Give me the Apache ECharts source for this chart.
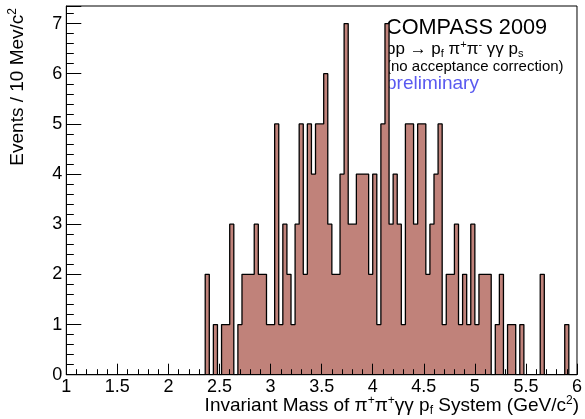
<!DOCTYPE html>
<html>
<head>
<meta charset="utf-8">
<script src="https://cdn.jsdelivr.net/npm/echarts@6/dist/echarts.min.js"></script>
<style>
  html, body { margin: 0; padding: 0; background: #fff; }
  #chart { width: 585px; height: 419px; }
</style>
</head>
<body>
<div id="chart"></div>
<script>
// histogram binning (GeV/c^2)
var binLo = 1;
var binWidth = 0.04;

// counts per bin, 125 bins from 1 to 6
var counts = [
	0, 0, 0, 0, 0, 0, 0, 0, 0, 0,
	0, 0, 0, 0, 0, 0, 0, 0, 0, 0,
	0, 0, 0, 0, 0, 0, 0, 0, 0, 0,
	0, 0, 0, 0, 2, 0, 1, 0, 1, 1,
	3, 0, 1, 2, 2, 2, 3, 2, 2, 1,
	1, 5, 1, 3, 2, 1, 3, 5, 2, 5,
	4, 5, 5, 6, 3, 2, 2, 4, 7, 3,
	3, 4, 4, 4, 2, 4, 1, 5, 7, 3,
	4, 3, 1, 5, 5, 3, 5, 5, 2, 3,
	4, 5, 1, 2, 2, 3, 1, 2, 1, 3,
	1, 2, 2, 2, 0, 1, 2, 0, 1, 1,
	0, 1, 0, 0, 0, 0, 2, 0, 0, 0,
	0, 0, 1, 0, 0
];

var xTicks = { min: 1, max: 6, step: 0.5 };
var yTicks = { min: 0, max: 7.35, step: 1 };

var font = '"Liberation Sans", Arial, Helvetica, sans-serif';

// step data: left edge of every bin, plus the closing right edge
var histData = counts.map(function (c, i) {
	return [binLo + i * binWidth, c];
});
histData.push([binLo + counts.length * binWidth, counts[counts.length - 1]]);

var chart = echarts.init(document.getElementById('chart'), null, { renderer: 'canvas' });

function richSet(size) {
	return {
		m: { fontSize: size, fontFamily: font, color: '#000', lineHeight: size + 3 },
		sup: { fontSize: Math.round(size * 0.65), fontFamily: font, color: '#000', lineHeight: Math.round(size * 0.65), verticalAlign: 'top' },
		sub: { fontSize: Math.round(size * 0.65), fontFamily: font, color: '#000', lineHeight: Math.round(size * 0.65), verticalAlign: 'bottom' }
	};
}

chart.setOption({
	backgroundColor: '#ffffff',
	animation: false,
	grid: {
		left: 66.3,
		right: 4.7,
		top: 6,
		bottom: 44.3,
		show: true,
		borderColor: '#000',
		borderWidth: 1,
		backgroundColor: 'transparent'
	},
	xAxis: {
		type: 'value',
		min: xTicks.min,
		max: xTicks.max,
		interval: xTicks.step,
		z: 10,
		axisLine: { show: true, onZero: false, lineStyle: { color: '#000', width: 1 } },
		axisTick: { show: true, inside: true, length: 11, lineStyle: { color: '#000' } },
		minorTick: { show: true, splitNumber: 5, length: 5.5, lineStyle: { color: '#000' } },
		splitLine: { show: false },
		axisLabel: { color: '#000', fontSize: 18, fontFamily: font, margin: 3 }
	},
	yAxis: {
		type: 'value',
		min: yTicks.min,
		max: yTicks.max,
		interval: yTicks.step,
		z: 10,
		axisLine: { show: true, onZero: false, lineStyle: { color: '#000', width: 1 } },
		axisTick: { show: true, inside: true, length: 15, lineStyle: { color: '#000' } },
		minorTick: { show: true, splitNumber: 5, length: 7.5, lineStyle: { color: '#000' } },
		splitLine: { show: false },
		axisLabel: { color: '#000', fontSize: 18, fontFamily: font, margin: 4, showMaxLabel: false }
	},
	series: [{
		type: 'line',
		step: 'end',
		data: histData,
		symbol: 'none',
		lineStyle: { color: '#000', width: 1.3 },
		areaStyle: { color: 'rgb(192,130,122)', opacity: 1 },
		z: 2
	}],
	graphic: [
		{
			type: 'text',
			x: 18,
			y: 8,
			rotation: Math.PI / 2,
			style: {
				text: '{m|Events / 10 Mev/c}{sup|2}',
				rich: richSet(19),
				align: 'right',
				verticalAlign: 'middle'
			}
		},
		{
			type: 'text',
			x: 579,
			y: 406,
			style: {
				text: '{m|Invariant Mass of π}{sup|+}{m|π}{sup|+}{m|γγ p}{sub|f}{m| System (GeV/c}{sup|2}{m|)}',
				rich: richSet(19),
				align: 'right',
				verticalAlign: 'middle'
			}
		},
		{
			type: 'text',
			x: 386,
			y: 28,
			style: { text: 'COMPASS 2009', fontSize: 21.7, fontFamily: font, fill: '#000', align: 'left', verticalAlign: 'middle' }
		},
		{
			type: 'text',
			x: 386,
			y: 49,
			style: {
				text: '{m|pp → p}{sub|f}{m| π}{sup|+}{m|π}{sup|-}{m| γγ p}{sub|s}',
				rich: richSet(17),
				align: 'left',
				verticalAlign: 'middle'
			}
		},
		{
			type: 'text',
			x: 386,
			y: 67,
			style: { text: '(no acceptance correction)', fontSize: 15, fontFamily: font, fill: '#000', align: 'left', verticalAlign: 'middle' }
		},
		{
			type: 'text',
			x: 386,
			y: 84,
			style: { text: 'preliminary', fontSize: 19, fontFamily: font, fill: '#5a5af0', align: 'left', verticalAlign: 'middle' }
		}
	]
});
</script>
</body>
</html>
